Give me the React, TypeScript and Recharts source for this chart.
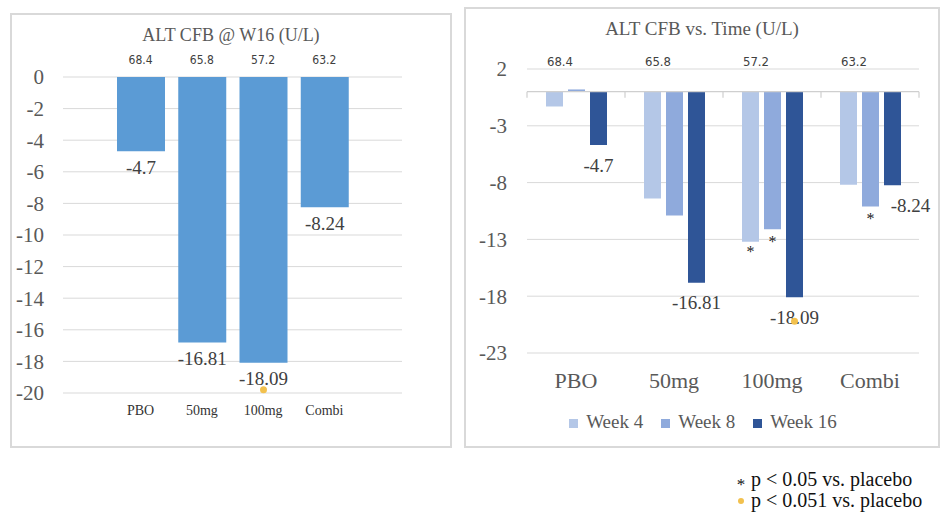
import React from 'react';
import {
  BarChart,
  Bar,
  XAxis,
  YAxis,
  CartesianGrid,
  Legend,
  LabelList,
  ReferenceLine
} from 'recharts';

const CATEGORIES = ['PBO', '50mg', '100mg', 'Combi'];
const BASELINE = [68.4, 65.8, 57.2, 63.2];
const WEEK4 = [-1.3, -9.4, -13.2, -8.2];
const WEEK8 = [0.2, -10.9, -12.1, -10.1];
const WEEK16 = [-4.7, -16.81, -18.09, -8.24];
// '*' = p < 0.05, 'dot' = p < 0.051
const SIG_WEEK4 = ['', '', '*', ''];
const SIG_WEEK8 = ['', '', '*', '*'];
const SIG_WEEK16 = ['', '', 'dot', ''];
const LEFT_TICKS = [0, -2, -4, -6, -8, -10, -12, -14, -16, -18, -20];
const RIGHT_TICKS = [2, -3, -8, -13, -18, -23];
const SERIES_ORDER = ['Week 4', 'Week 8', 'Week 16'];

const SERIF = 'Liberation Serif, Times New Roman, serif';
const NARROW = 'Liberation Sans Narrow, DejaVu Sans Condensed, sans-serif';
const GOLD = '#F2C14E';
const GRID = '#d9d9d9';
const COMBI_LABEL_DX = [0, 0, 0, 18];

const data = CATEGORIES.map((name, i) => ({
  name,
  baseline: BASELINE[i],
  week4: WEEK4[i],
  week8: WEEK8[i],
  week16: WEEK16[i]
}));

const serifTick = (fontSize: number, fill: string) => ({ fill, fontSize, fontFamily: SERIF, style: { fontFamily: SERIF } });
const narrowTick = (fontSize: number, extra: any = {}) => ({
  fill: '#404040',
  fontSize,
  fontFamily: NARROW,
  style: { fontFamily: NARROW },
  ...extra
});

const barEnd = (p: any) => {
  const vb = p.viewBox || p;
  const x = Number(vb.x ?? p.x);
  const y = Number(vb.y ?? p.y);
  const w = Number(vb.width ?? p.width);
  const h = Number(vb.height ?? p.height);
  return { cx: x + w / 2, bottom: Math.max(y, y + h) };
};

const valueLabel = (offset: number, fontSize: number, nudge?: number[]) => (p: any) => {
  const { cx, bottom } = barEnd(p);
  const dx = nudge ? nudge[p.index] || 0 : 0;
  return (
    <text
      x={cx + dx}
      y={bottom + offset}
      textAnchor="middle"
      dominantBaseline="central"
      fontSize={fontSize}
      style={{ fontFamily: SERIF }}
      fill="#404040"
    >
      {p.value}
    </text>
  );
};

const sigMark = (marks: string[], starOffset: number, dotOffset: number) => (p: any) => {
  const mark = marks[p.index];
  if (!mark) return null;
  const { cx, bottom } = barEnd(p);
  if (mark === 'dot') return <circle cx={cx} cy={bottom + dotOffset} r={3.5} fill={GOLD} />;
  return (
    <text x={cx} y={bottom + starOffset} textAnchor="middle" dominantBaseline="central" fontSize={16} style={{ fontFamily: SERIF }} fill="#222">
      *
    </text>
  );
};

// category axis drawn at zero, with tick marks between the groups
const ZeroAxis = (p: any) => {
  const { x1, x2, y1 } = p;
  const step = (x2 - x1) / CATEGORIES.length;
  return (
    <g>
      <line x1={x1} x2={x2} y1={y1} y2={y1} stroke="#cfcfcf" strokeWidth={1.2} />
      {Array.from({ length: CATEGORIES.length + 1 }, (_, i) => (
        <line key={i} x1={x1 + i * step} x2={x1 + i * step} y1={y1} y2={y1 + 6} stroke="#cfcfcf" strokeWidth={1.2} />
      ))}
    </g>
  );
};

const panel = (left: number, top: number, width: number, height: number): React.CSSProperties => ({
  position: 'absolute',
  left,
  top,
  width,
  height,
  border: `2px solid ${GRID}`,
  boxSizing: 'border-box'
});

const title: React.CSSProperties = {
  position: 'absolute',
  textAlign: 'center',
  color: '#595959',
  lineHeight: '20px'
};

export default function App() {
  return (
    <div
      style={{
        position: 'absolute',
        left: 0,
        top: 0,
        width: 951,
        height: 520,
        background: '#fff',
        overflow: 'hidden',
        fontFamily: SERIF
      }}
    >
      <div style={panel(10, 13, 442, 435)} />
      <div style={panel(464, 7, 476, 441)} />

      <div style={{ ...title, left: 10, top: 25, width: 442, fontSize: 18 }}>ALT CFB @ W16 (U/L)</div>
      <div style={{ ...title, left: 464, top: 19, width: 476, fontSize: 19 }}>ALT CFB vs. Time (U/L)</div>

      <div style={{ position: 'absolute', left: 10, top: 13 }}>
        <BarChart width={442} height={435} data={data} margin={{ top: 34, right: 50, bottom: 25, left: 8 }}>
          <CartesianGrid vertical={false} stroke={GRID} />
          <XAxis
            dataKey="name"
            height={30}
            axisLine={false}
            tickLine={false}
            tickSize={0}
            tickMargin={12}
            interval={0}
            padding={{ left: 47, right: 47 }}
            tick={serifTick(14, '#333')}
          />
          <XAxis
            xAxisId="top"
            orientation="top"
            dataKey="name"
            height={30}
            axisLine={false}
            tickLine={false}
            tickSize={0}
            tickMargin={13}
            interval={0}
            padding={{ left: 47, right: 47 }}
            tickFormatter={(_v: any, i: number) => String(BASELINE[i])}
            tick={narrowTick(12)}
          />
          <YAxis
            type="number"
            domain={[-20, 0]}
            ticks={LEFT_TICKS}
            interval={0}
            width={45}
            axisLine={false}
            tickLine={false}
            tickSize={0}
            tickMargin={19}
            tick={serifTick(21, '#595959')}
          />
          <Bar dataKey="week16" fill="#5B9BD5" barSize={48} isAnimationActive={false}>
            <LabelList dataKey="week16" content={valueLabel(16, 19)} />
            <LabelList dataKey="week16" content={sigMark(SIG_WEEK16, 10, 27)} />
          </Bar>
        </BarChart>
      </div>

      <div style={{ position: 'absolute', left: 464, top: 7 }}>
        <BarChart width={476} height={441} data={data} barGap={5} margin={{ top: 32, right: 21, bottom: 55, left: 13 }}>
          <CartesianGrid vertical={false} stroke={GRID} />
          <XAxis
            dataKey="name"
            height={40}
            axisLine={false}
            tickLine={false}
            tickSize={0}
            tickMargin={19}
            interval={0}
            tick={serifTick(22, '#595959')}
          />
          <XAxis
            xAxisId="top"
            orientation="top"
            dataKey="name"
            height={30}
            axisLine={false}
            tickLine={false}
            tickSize={0}
            tickMargin={3}
            interval={0}
            tickFormatter={(_v: any, i: number) => String(BASELINE[i])}
            tick={narrowTick(13, { dx: -16 })}
          />
          <YAxis
            type="number"
            domain={[-23, 2]}
            ticks={RIGHT_TICKS}
            interval={0}
            width={50}
            axisLine={false}
            tickLine={false}
            tickSize={0}
            tickMargin={20}
            tick={serifTick(21, '#595959')}
          />
          <Legend
            layout="horizontal"
            verticalAlign="middle"
            align="center"
            iconType="square"
            iconSize={9}
            itemSorter={(item: any) => SERIES_ORDER.indexOf(item.value)}
            wrapperStyle={{ top: 404, left: 27, fontFamily: SERIF, fontSize: 19 }}
            formatter={(v: any) => (
              <span style={{ color: '#595959', marginLeft: 4, marginRight: 8, fontFamily: SERIF }}>{v}</span>
            )}
          />
          <Bar dataKey="week4" name="Week 4" fill="#B4C7E7" barSize={17} isAnimationActive={false}>
            <LabelList dataKey="week4" content={sigMark(SIG_WEEK4, 10, 24)} />
          </Bar>
          <Bar dataKey="week8" name="Week 8" fill="#8FAADC" barSize={17} isAnimationActive={false}>
            <LabelList dataKey="week8" content={sigMark(SIG_WEEK8, 12, 24)} />
          </Bar>
          <Bar dataKey="week16" name="Week 16" fill="#2F5597" barSize={17} isAnimationActive={false}>
            <LabelList dataKey="week16" content={valueLabel(20, 19, COMBI_LABEL_DX)} />
            <LabelList dataKey="week16" content={sigMark(SIG_WEEK16, 10, 24)} />
          </Bar>
          <ReferenceLine y={0} shape={ZeroAxis} />
        </BarChart>
      </div>

      <div style={{ position: 'absolute', left: 731, top: 469, fontSize: 20, lineHeight: '21px', color: '#111' }}>
        <div style={{ display: 'flex', alignItems: 'center' }}>
          <span style={{ width: 20, fontSize: 17, position: 'relative', top: 5, textAlign: 'center' }}>*</span>
          <span>p &lt; 0.05 vs. placebo</span>
        </div>
        <div style={{ display: 'flex', alignItems: 'center' }}>
          <span style={{ width: 20, display: 'flex', justifyContent: 'center' }}>
            <span style={{ width: 6, height: 6, borderRadius: 3, background: GOLD, position: 'relative', top: 0 }} />
          </span>
          <span>p &lt; 0.051 vs. placebo</span>
        </div>
      </div>
    </div>
  );
}
